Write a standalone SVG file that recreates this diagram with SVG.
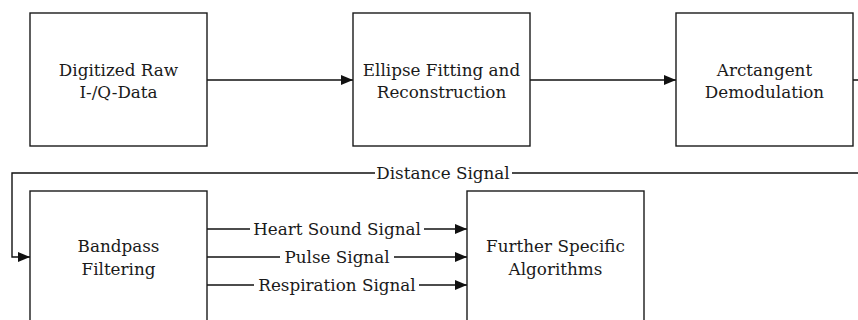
<svg xmlns="http://www.w3.org/2000/svg" width="858" height="320" viewBox="0 0 858 320">
<style>
.box{fill:#fff;stroke:#1a1a1a;stroke-width:1.4}
.c{fill:none;stroke:#111;stroke-width:1.4}
.bg{fill:#fff}
.f{font-family:"DejaVu Serif","Liberation Serif",serif;font-size:16.8px;fill:#1a1a1a;text-anchor:middle}
</style>
<defs>
<marker id="ah" markerWidth="12" markerHeight="10" refX="12" refY="5" orient="auto" markerUnits="userSpaceOnUse">
<path d="M0,0 L12,5 L0,10 Z" fill="#111"/>
</marker>
</defs>
<rect width="858" height="320" fill="#fff"/>
<g id="connectors">
<path class="c" d="M207,80 H353" marker-end="url(#ah)"/>
<path class="c" d="M530,80 H676" marker-end="url(#ah)"/>
<path class="c" d="M853,80 H870 V173 H12 V257 H30" marker-end="url(#ah)"/>
<path class="c" d="M207,229 H467" marker-end="url(#ah)"/>
<path class="c" d="M207,257 H467" marker-end="url(#ah)"/>
<path class="c" d="M207,285 H467" marker-end="url(#ah)"/>
<rect class="bg" x="375" y="164" width="137" height="18"/>
<rect class="bg" x="250" y="220" width="174" height="18"/>
<rect class="bg" x="280" y="248" width="114" height="18"/>
<rect class="bg" x="254" y="276" width="165" height="18"/>
<g class="f">
<text x="443" y="178.5">Distance Signal</text>
<text x="337" y="234.5">Heart Sound Signal</text>
<text x="337" y="262.5">Pulse Signal</text>
<text x="337" y="290.5">Respiration Signal</text>
</g>
</g>
<g class="f">
<g id="n1">
<rect class="box" x="30" y="13" width="177" height="133"/>
<text x="118.5" y="76">Digitized Raw</text>
<text x="118.5" y="98">I-/Q-Data</text>
</g>
<g id="n2">
<rect class="box" x="353" y="13" width="177" height="133"/>
<text x="441.5" y="76">Ellipse Fitting and</text>
<text x="441.5" y="98">Reconstruction</text>
</g>
<g id="n3">
<rect class="box" x="676" y="13" width="177" height="133"/>
<text x="764.5" y="76">Arctangent</text>
<text x="764.5" y="98">Demodulation</text>
</g>
<g id="n4">
<rect class="box" x="30" y="191" width="177" height="140"/>
<text x="118.5" y="252">Bandpass</text>
<text x="118.5" y="275">Filtering</text>
</g>
<g id="n5">
<rect class="box" x="467" y="191" width="177" height="140"/>
<text x="555.5" y="252">Further Specific</text>
<text x="555.5" y="275">Algorithms</text>
</g>
</g>
</svg>
